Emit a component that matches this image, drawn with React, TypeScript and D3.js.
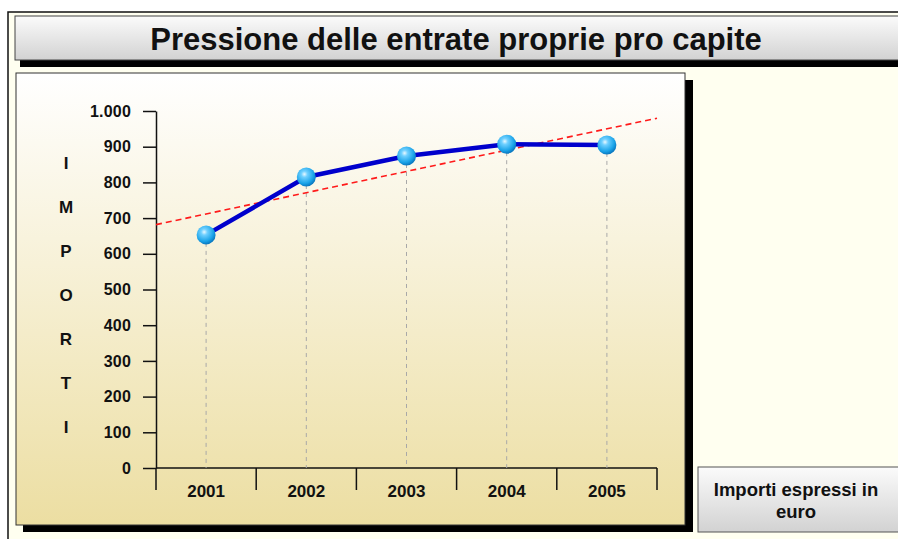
import React, { useEffect, useRef } from 'react';
import * as d3 from 'd3';

const years = ['2001', '2002', '2003', '2004', '2005'];
const importi = [653, 815, 874, 907, 905];
const yTicks = [0, 100, 200, 300, 400, 500, 600, 700, 800, 900, 1000];
const yTitle = ['I', 'M', 'P', 'O', 'R', 'T', 'I'];
const title = 'Pressione delle entrate proprie pro capite';
const note = ['Importi espressi in', 'euro'];

const W = 898;
const H = 539;

const itFormat = d3.formatLocale({
  decimal: ',',
  thousands: '.',
  grouping: [3],
  currency: ['', ' €'],
}).format(',d');

const App: React.FC = () => {
  const svgRef = useRef<SVGSVGElement>(null);

  useEffect(() => {
    if (!svgRef.current) return;
    const svg = d3.select(svgRef.current);
    svg.select('.chart').remove();

    const x = d3.scaleBand<string>().domain(years).range([156, 657]).padding(0);
    const y = d3.scaleLinear().domain([0, 1000]).range([468, 111]);
    const cx = (d: string) => (x(d) || 0) + x.bandwidth() / 2;

    const g = svg.append('g').attr('class', 'chart');
    const font = '"Liberation Sans", Arial, sans-serif';

    // y axis
    const yAxis = g.append('g')
      .attr('transform', 'translate(156,0)')
      .call(d3.axisLeft(y).tickValues(yTicks).tickSize(13).tickSizeOuter(0).tickPadding(12).tickFormat(d => itFormat(+d)));
    yAxis.select('.domain').attr('stroke', '#111').attr('stroke-width', 1.5);
    yAxis.selectAll('.tick line').attr('stroke', '#111').attr('stroke-width', 1.5);
    yAxis.selectAll('.tick text')
      .attr('fill', '#111')
      .style('font-family', font)
      .style('font-weight', 'bold')
      .style('font-size', '16px')
      .style('letter-spacing', '0.2px');

    // x axis: boundary ticks between bands
    const bounds = years.map(d => x(d) || 0).concat([x.range()[1]]);
    g.append('line')
      .attr('x1', 156).attr('x2', 657).attr('y1', y(0)).attr('y2', y(0))
      .attr('stroke', '#111').attr('stroke-width', 1.5);
    g.selectAll('.xtick').data(bounds).enter().append('line')
      .attr('x1', d => d).attr('x2', d => d)
      .attr('y1', y(0)).attr('y2', y(0) + 22)
      .attr('stroke', '#111').attr('stroke-width', 1.5);
    g.selectAll('.xlab').data(years).enter().append('text')
      .attr('x', d => cx(d)).attr('y', y(0) + 29)
      .attr('text-anchor', 'middle')
      .attr('fill', '#111')
      .style('font-family', font)
      .style('font-weight', 'bold')
      .style('font-size', '17px')
      .text(d => d);

    // drop lines
    g.selectAll('.drop').data(years).enter().append('line')
      .attr('x1', d => cx(d)).attr('x2', d => cx(d))
      .attr('y1', (d, i) => y(importi[i])).attr('y2', y(0))
      .attr('stroke', '#a8a8a8').attr('stroke-width', 1)
      .attr('stroke-dasharray', '4,4');

    // linear trend (least squares)
    const xs = years.map((_, i) => i + 1);
    const mx = d3.mean(xs) || 0;
    const my = d3.mean(importi) || 0;
    const slope = d3.sum(xs, (v, i) => (v - mx) * (importi[i] - my)) / d3.sum(xs, v => (v - mx) ** 2);
    const xIdx = d3.scaleLinear().domain([0.5, years.length + 0.5]).range(x.range());
    g.append('line')
      .attr('x1', xIdx(0.5)).attr('y1', y(my + slope * (0.5 - mx)))
      .attr('x2', xIdx(years.length + 0.5)).attr('y2', y(my + slope * (years.length + 0.5 - mx)))
      .attr('stroke', '#ff1a1a').attr('stroke-width', 1.6)
      .attr('stroke-dasharray', '6,4');

    // series line
    const line = d3.line<number>().x((_, i) => cx(years[i])).y(d => y(d));
    g.append('path')
      .attr('d', line(importi) || '')
      .attr('fill', 'none')
      .attr('stroke', '#0000cc')
      .attr('stroke-width', 4.5)
      .attr('stroke-linejoin', 'round');

    // sphere markers
    g.selectAll('.pt').data(importi).enter().append('circle')
      .attr('cx', (_, i) => cx(years[i]))
      .attr('cy', d => y(d))
      .attr('r', 9.5)
      .attr('fill', 'url(#sphere)');
  }, []);

  const yl = d3.scaleLinear().domain([0, yTitle.length - 1]).range([163, 427]);

  return (
    <div style={{ position: 'absolute', left: 0, top: 0 }}>
      <svg ref={svgRef} width={W} height={H} style={{ display: 'block' }}>
        <defs>
          <linearGradient id="titleGrad" x1="0" y1="0" x2="0" y2="1">
            <stop offset="0%" stopColor="#fbfbfb" />
            <stop offset="100%" stopColor="#d2d2d2" />
          </linearGradient>
          <linearGradient id="panelGrad" x1="0" y1="0" x2="0" y2="1">
            <stop offset="0%" stopColor="#ffffff" />
            <stop offset="100%" stopColor="#ecdea2" />
          </linearGradient>
          <radialGradient id="sphere" cx="40%" cy="35%" r="65%">
            <stop offset="0%" stopColor="#e8f8ff" />
            <stop offset="25%" stopColor="#6fd0ff" />
            <stop offset="75%" stopColor="#1aa3e8" />
            <stop offset="100%" stopColor="#0a78c0" />
          </radialGradient>
        </defs>

        <rect x={0} y={0} width={W} height={H} fill="#ffffff" />
        <rect x={8} y={12} width={W + 10} height={H + 10} fill="#fffff0" stroke="#111" strokeWidth={1.5} />

        {/* title box */}
        <rect x={20} y={22} width={W} height={45} fill="#000" />
        <rect x={15} y={16} width={W} height={44} fill="url(#titleGrad)" stroke="#444" strokeWidth={1} />
        <text x={456} y={50} textAnchor="middle"
          style={{ fontFamily: '"Liberation Sans", Arial, sans-serif', fontWeight: 'bold', fontSize: '31px' }}
          fill="#111">{title}</text>

        {/* plot panel */}
        <rect x={23} y={80} width={670} height={452} fill="#000" />
        <rect x={16} y={73} width={669} height={452} fill="url(#panelGrad)" stroke="#333" strokeWidth={1} />

        {yTitle.map((c, i) => (
          <text key={i} x={66} y={yl(i) + 6} textAnchor="middle" fill="#111"
            style={{ fontFamily: '"Liberation Sans", Arial, sans-serif', fontWeight: 'bold', fontSize: '17px' }}>{c}</text>
        ))}

        {/* note box */}
        <rect x={698} y={467} width={210} height={65} fill="url(#titleGrad)" stroke="#555" strokeWidth={1} />
        {note.map((t, i) => (
          <text key={i} x={796} y={496 + i * 22} textAnchor="middle" fill="#111"
            style={{ fontFamily: '"Liberation Sans", Arial, sans-serif', fontWeight: 'bold', fontSize: '18.5px' }}>{t}</text>
        ))}
      </svg>
    </div>
  );
};

export default App;
